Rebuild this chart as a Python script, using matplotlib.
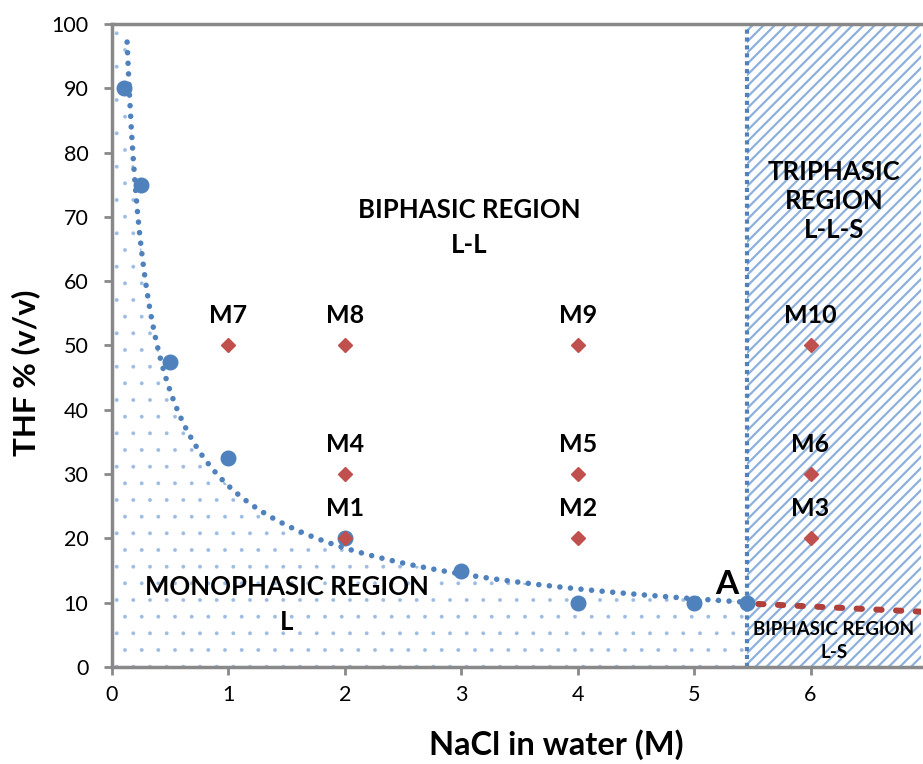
import numpy as np
import matplotlib
matplotlib.use("Agg")
import matplotlib.pyplot as plt

plt.rcParams['font.family'] = ['Lato', 'DejaVu Sans']

# measured points of the binodal curve
nacl = [0.1, 0.25, 0.5, 1, 2, 3, 4, 5, 5.45]
thf = [90, 75, 47.5, 32.5, 20, 15, 10, 10, 10]

# mixtures
mix_names = ['M1', 'M2', 'M3', 'M4', 'M5', 'M6', 'M7', 'M8', 'M9', 'M10']
mix_nacl = [2, 4, 6, 2, 4, 6, 1, 2, 4, 6]
mix_thf = [20, 20, 20, 30, 30, 30, 50, 50, 50, 50]

# L-S boundary beyond point A
ls_nacl = [5.55, 6.95]
ls_thf = [9.8, 8.6]

x_a = 5.45
x_max = 6.95

blue = '#4F81BD'
red = '#C0504D'
gray = '#898989'

fig = plt.figure(figsize=(9.23, 7.64), dpi=100)
ax = fig.add_axes([0.1213, 0.127, 0.8767, 0.8416])

# power trendline y = a * x^b
b, lna = np.polyfit(np.log(nacl), np.log(thf), 1)
xs = np.linspace(0.13, x_a, 300)
ys = np.exp(lna) * xs ** b

# monophasic region (dots under the curve)
with plt.rc_context({'hatch.linewidth': 0.3}):
    dots = ax.fill_between(np.concatenate([[0], xs]), 0,
                           np.concatenate([[100], ys]), facecolor='none',
                           edgecolor='#9BBBE3', hatch='.', linewidth=0)
# triphasic region (diagonal stripes)
with plt.rc_context({'hatch.linewidth': 1.6}):
    stripes = ax.fill_between([x_a, x_max], 0, 100, facecolor='white',
                              edgecolor='#8DB0DC', hatch='///', linewidth=0)
if hasattr(dots, 'set_hatch_linewidth'):
    dots.set_hatch_linewidth(0.3)
    stripes.set_hatch_linewidth(1.6)

ax.plot(xs, ys, linestyle=(0, (0.01, 1.9)), color=blue, linewidth=4,
        dash_capstyle='round')
ax.axvline(x_a, color=blue, linewidth=3, linestyle=(0, (1, 0.9)))
ax.plot(ls_nacl, ls_thf, linestyle=(0, (0.9, 2.4)), color='#B0403C',
        linewidth=4.3, dash_capstyle='round', zorder=4)

ax.plot(nacl, thf, 'o', color=blue, markersize=10.5, zorder=5)
ax.plot(mix_nacl, mix_thf, 'D', color=red, markersize=7, zorder=6)

for name, x, y in zip(mix_names, mix_nacl, mix_thf):
    ax.text(x, y + 3.5, name, ha='center', va='baseline', fontsize=18,
            fontweight='bold')

ax.text(3.07, 68.3, 'BIPHASIC REGION\nL-L', ha='center', va='center',
        fontsize=18.5, fontweight='bold', linespacing=1.55)
ax.text(1.5, 9.7, 'MONOPHASIC REGION\nL', ha='center', va='center',
        fontsize=18.5, fontweight='bold', linespacing=1.55)
ax.text(6.2, 72.5, 'TRIPHASIC\nREGION\nL-L-S', ha='center', va='center',
        fontsize=18.5, fontweight='bold', linespacing=1.25)
ax.text(6.2, 4.0, 'BIPHASIC REGION\nL-S', ha='center', va='center',
        fontsize=13.5, fontweight='bold', linespacing=1.45)
ax.text(5.28, 11.3, 'A', ha='center', va='baseline', fontsize=24,
        fontweight='bold')

ax.set_xlim(0, x_max)
ax.set_ylim(0, 100)
ax.set_xticks(range(0, 7))
ax.set_yticks(range(0, 101, 10))
ax.tick_params(labelsize=15.5, color=gray, width=2, length=6)
ax.tick_params(axis='y', pad=11)
ax.tick_params(axis='x', pad=7)

for side in ['left', 'bottom', 'top']:
    ax.spines[side].set_color(gray)
    ax.spines[side].set_linewidth(2.5)
ax.spines['right'].set_visible(False)

ax.set_xlabel('NaCl in water (M)', fontsize=23.5, fontweight='bold')
ax.set_ylabel('THF % (v/v)', fontsize=22.5, fontweight='bold')
ax.xaxis.set_label_coords(0.549, -0.097)
ax.yaxis.set_label_coords(-0.089, 0.458)

fig.savefig('out.png', dpi=100)
